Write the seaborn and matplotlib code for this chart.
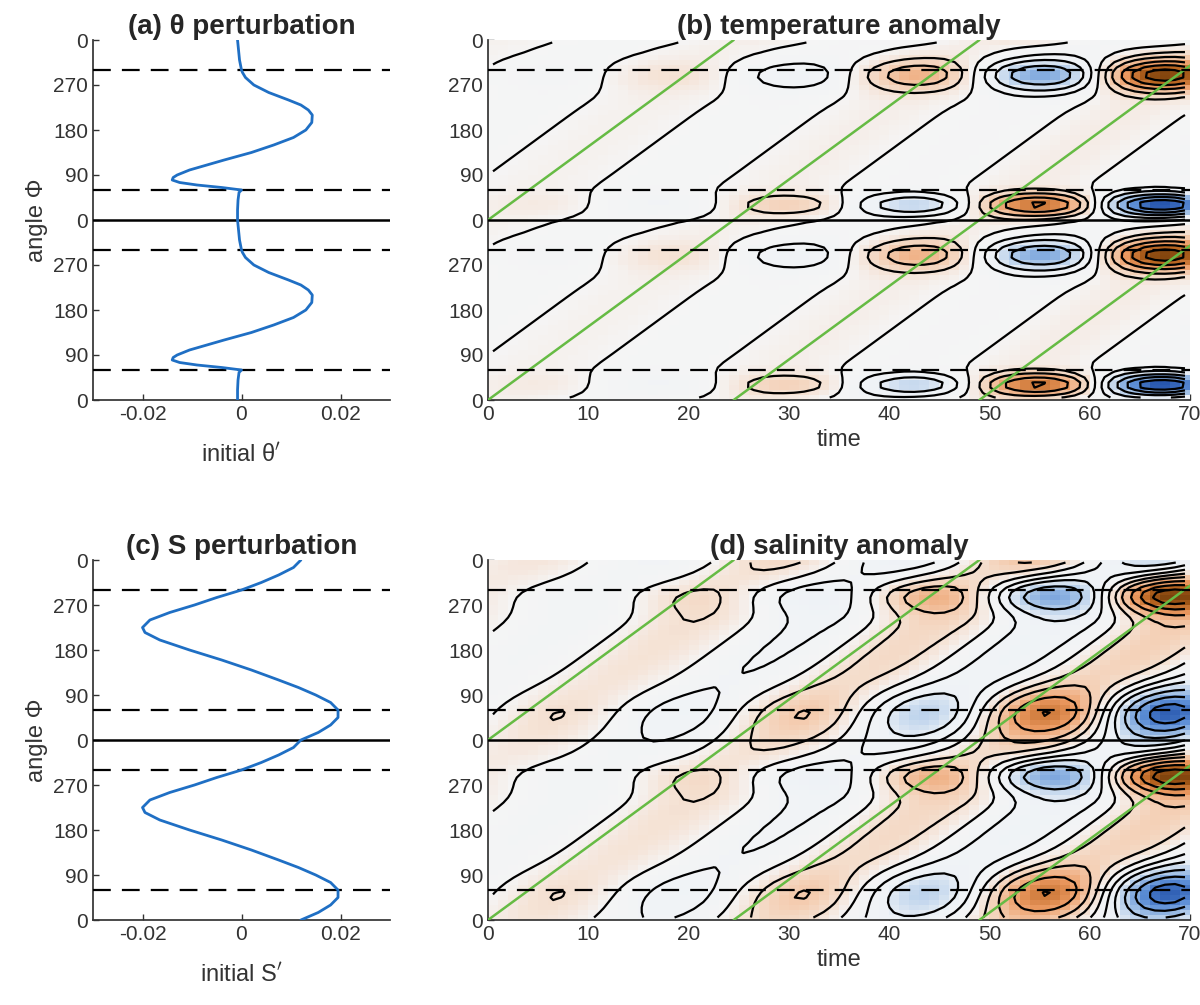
import numpy as np
import matplotlib
matplotlib.use("Agg")
import matplotlib.pyplot as plt
import seaborn as sns
from matplotlib.colors import LinearSegmentedColormap

# ---- panel (a): initial theta' (phi in deg, one cycle)
theta_phi = [0, 20, 40, 55, 60, 65, 70, 75, 80, 85, 90, 100, 110, 120, 135, 150, 165, 180,
             195, 210, 220, 230, 240, 255, 270, 285, 295, 300, 320, 340, 360]
theta_val = [-0.0008, -0.0008, -0.0007, -0.0005, 0.0, -0.004, -0.009, -0.0125, -0.014, -0.0138,
             -0.013, -0.0105, -0.007, -0.0035, 0.002, 0.0065, 0.0105, 0.013, 0.0142, 0.0143,
             0.0135, 0.012, 0.0095, 0.0055, 0.0025, 0.0008, 0.0002, 0.0, -0.0004, -0.0006, -0.0008]

# ---- panel (c): initial S'
sal_phi = [0, 15, 30, 45, 60, 75, 90, 105, 120, 140, 160, 180, 200, 215, 225, 240, 255, 270,
           285, 300, 315, 330, 345, 360]
sal_val = [0.012, 0.0155, 0.018, 0.0195, 0.0195, 0.018, 0.015, 0.0115, 0.0075, 0.002, -0.004,
           -0.0105, -0.0165, -0.0195, -0.02, -0.0185, -0.0145, -0.0095, -0.005, 0.0, 0.004,
           0.0075, 0.0105, 0.012]

# ---- anomaly fields (b),(d): read envelope and timing
amp_times = [0, 10, 20, 30, 40, 50, 60, 70]
amp_T = [0.04, 0.07, 0.12, 0.2, 0.33, 0.52, 0.78, 1.05]
amp_S = [0.05, 0.08, 0.12, 0.18, 0.3, 0.48, 0.75, 1.05]
osc_period = 25.0
osc_peak = 42.0
char_period = 24.5          # green characteristic lines
char_starts = [0, 24.5, 49]
dashed_phi = [60, 300, 420, 660]
ytick_pos = [0, 90, 180, 270, 360, 450, 540, 630, 720]
ytick_lab = ['0', '90', '180', '270', '0', '90', '180', '270', '0']

cmap = LinearSegmentedColormap.from_list(
    'bo', ['#1f4ea8', '#5d8fd6', '#a9c6e8', '#eef2f6', '#f5f5f5', '#f4cfb4', '#ec9a62', '#b8641f', '#6e3a08'])

sns.set_theme(style='ticks')
plt.rcParams['font.family'] = ['Liberation Sans', 'DejaVu Sans']

t_c = np.arange(0.5, 70, 1.0)
p_c = np.arange(5, 360, 10.0)
TT, PP = np.meshgrid(t_c, p_c)

def band(phi, c, w):
    d = (phi - c + 180) % 360 - 180
    return np.exp(-d ** 2 / (2 * w ** 2))

GT = np.interp(TT, amp_times, amp_T)
GS = np.interp(TT, amp_times, amp_S)
osc = np.cos(2 * np.pi * (TT - osc_peak) / osc_period)
prop = np.cos(2 * np.pi * (PP - 360 * TT / char_period) / 360)

T_field = GT * osc * (band(PP, 290, 22) - 1.1 * band(PP, 30, 16)) + 0.025 * prop * (1 + TT / 40)
S_field = (GS * osc * (band(PP, 290, 25) - 0.8 * band(PP, 55, 35))
           + 0.09 * (1 + TT / 35) * np.cos(2 * np.pi * (PP - 360 * TT / char_period + 60) / 360))

def tile(f):
    return np.vstack([f, f])

p2 = np.concatenate([p_c, p_c + 360])
t_edges = np.arange(0, 71, 1.0)
p_edges = np.arange(0, 721, 10.0)

fig = plt.figure(figsize=(12, 10.05), dpi=100)
W, H = 1200, 1005
def box(x0, y0, x1, y1):
    return [x0 / W, 1 - y1 / H, (x1 - x0) / W, (y1 - y0) / H]

ax_a = fig.add_axes(box(93, 40, 390, 400))
ax_b = fig.add_axes(box(488, 40, 1190, 400))
ax_c = fig.add_axes(box(93, 560, 390, 920))
ax_d = fig.add_axes(box(488, 560, 1190, 920))

def style(ax):
    ax.set_ylim(0, 720)
    ax.set_yticks(ytick_pos)
    ax.set_yticklabels(ytick_lab)
    ax.tick_params(labelsize=15, direction='in', length=4, width=1, colors='#333333')
    for s in ['top', 'right']:
        ax.spines[s].set_visible(False)
    for s in ['left', 'bottom']:
        ax.spines[s].set_color('#333333')
    for d in dashed_phi:
        ax.axhline(d, color='black', lw=1.6, ls=(0, (8, 5)), zorder=5)
    ax.axhline(360, color='black', lw=1.8, zorder=5)

def line_panel(ax, phi, val, title, xlabel):
    phi_all = np.concatenate([phi, np.array(phi) + 360])
    val_all = np.concatenate([val, val])
    ax.plot(val_all, phi_all, color='#1f6fc4', lw=2, zorder=6)
    ax.set_xlim(-0.03, 0.03)
    ax.set_xticks([-0.02, 0, 0.02])
    ax.set_xticklabels(['-0.02', '0', '0.02'])
    style(ax)
    ax.set_ylabel('angle Φ', fontsize=17, color='#333333')
    ax.set_xlabel(xlabel, fontsize=17, color='#333333', labelpad=14)
    ax.set_title(title, fontsize=20, fontweight='bold', pad=4)

line_panel(ax_a, theta_phi, theta_val, '(a) θ perturbation', "initial θ$'$")
line_panel(ax_c, sal_phi, sal_val, '(c) S perturbation', "initial S$'$")

def field_panel(ax, f, levels, title):
    F = tile(f)
    ax.pcolormesh(t_edges, p_edges, F, cmap=cmap, vmin=-1.1, vmax=1.1, shading='flat', zorder=1)
    ax.contour(t_c, p2, F, levels=levels, colors='black', linewidths=1.6,
               linestyles='solid', zorder=3)
    for s0 in char_starts:
        tt = np.array([s0, s0 + char_period])
        ax.plot(tt, [0, 360], color='#66bb44', lw=1.8, zorder=4)
        ax.plot(tt, [360, 720], color='#66bb44', lw=1.8, zorder=4)
    ax.set_xlim(0, 70)
    ax.set_xticks(range(0, 71, 10))
    style(ax)
    ax.set_xlabel('time', fontsize=17, color='#333333')
    ax.set_title(title, fontsize=20, fontweight='bold', pad=4)

lev = [-0.9, -0.7, -0.5, -0.3, -0.15, 0, 0.15, 0.3, 0.5, 0.7, 0.9]
field_panel(ax_b, T_field, lev, '(b) temperature anomaly')
field_panel(ax_d, S_field, lev, '(d) salinity anomaly')

fig.savefig('out.png', dpi=100)
